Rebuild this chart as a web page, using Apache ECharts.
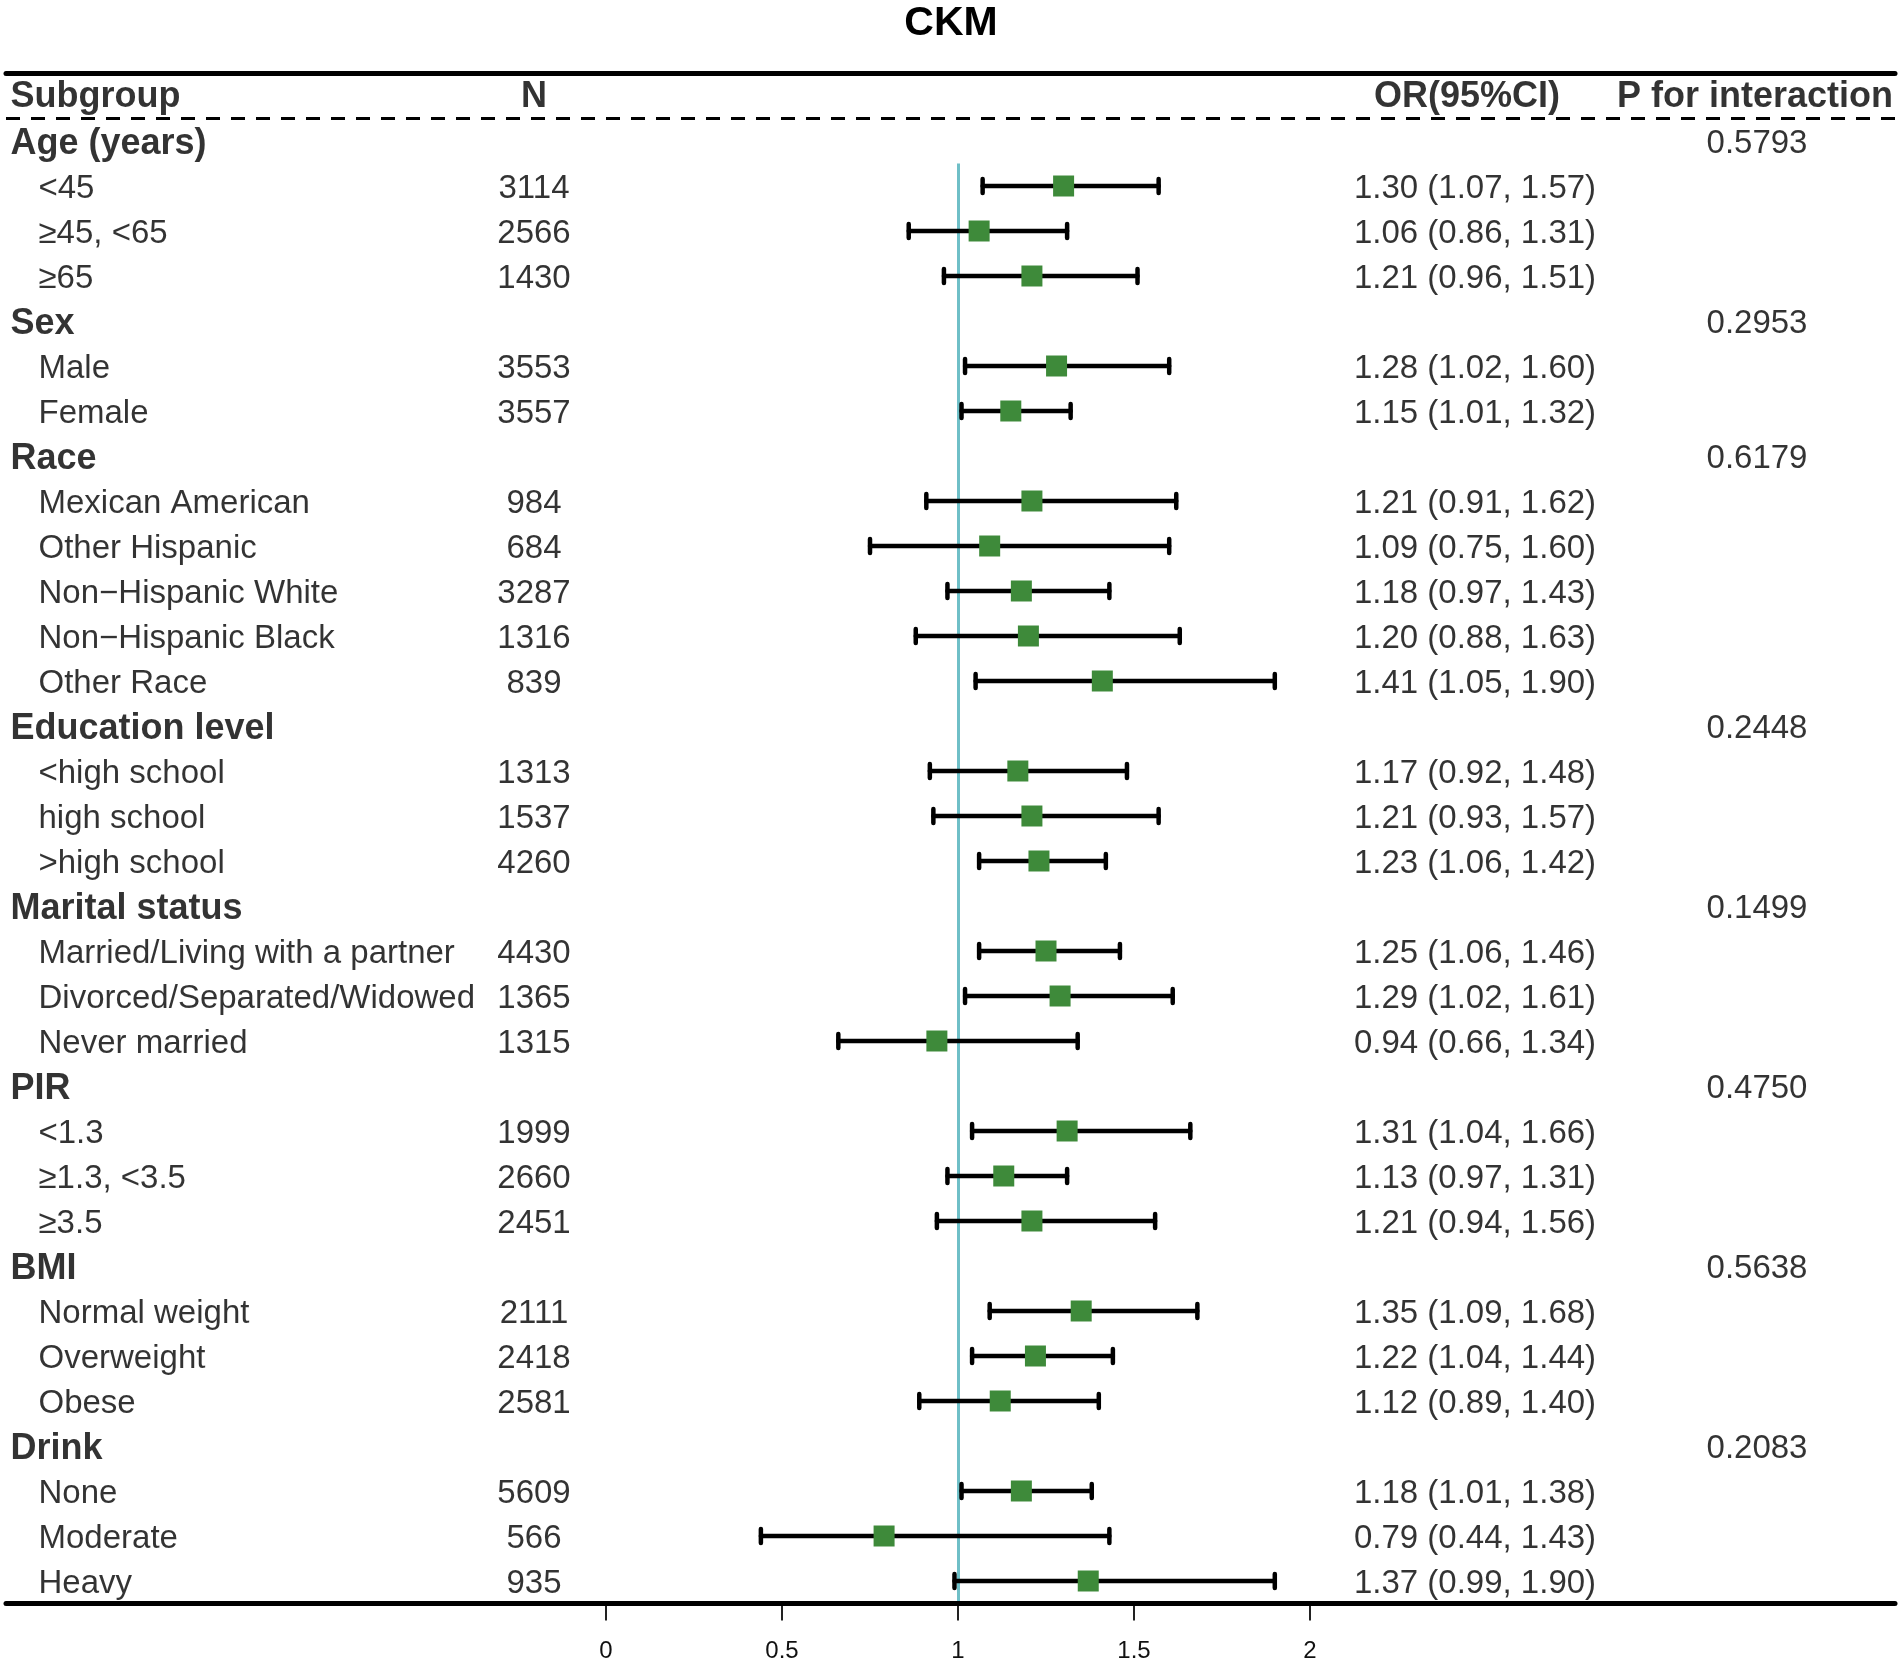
<!DOCTYPE html>
<html>
<head>
<meta charset="utf-8">
<script src="https://cdn.jsdelivr.net/npm/echarts@6/dist/echarts.min.js"></script>
<style>
html,body{margin:0;padding:0;background:#ffffff;}
#chart{width:1902px;height:1666px;}
</style>
</head>
<body>
<div id="chart"></div>
<script>
// ---------------- data ----------------
const rowLabels = [
  'Age (years)', '<45', '\u226545, <65', '\u226565',
  'Sex', 'Male', 'Female',
  'Race', 'Mexican American', 'Other Hispanic', 'Non\u2212Hispanic White', 'Non\u2212Hispanic Black', 'Other Race',
  'Education level', '<high school', 'high school', '>high school',
  'Marital status', 'Married/Living with a partner', 'Divorced/Separated/Widowed', 'Never married',
  'PIR', '<1.3', '\u22651.3, <3.5', '\u22653.5',
  'BMI', 'Normal weight', 'Overweight', 'Obese',
  'Drink', 'None', 'Moderate', 'Heavy'
];
const isGroup = [
  true, false, false, false,
  true, false, false,
  true, false, false, false, false, false,
  true, false, false, false,
  true, false, false, false,
  true, false, false, false,
  true, false, false, false,
  true, false, false, false
];
const nValues = [
  null, 3114, 2566, 1430,
  null, 3553, 3557,
  null, 984, 684, 3287, 1316, 839,
  null, 1313, 1537, 4260,
  null, 4430, 1365, 1315,
  null, 1999, 2660, 2451,
  null, 2111, 2418, 2581,
  null, 5609, 566, 935
];
const orValues = [
  null, 1.30, 1.06, 1.21,
  null, 1.28, 1.15,
  null, 1.21, 1.09, 1.18, 1.20, 1.41,
  null, 1.17, 1.21, 1.23,
  null, 1.25, 1.29, 0.94,
  null, 1.31, 1.13, 1.21,
  null, 1.35, 1.22, 1.12,
  null, 1.18, 0.79, 1.37
];
const ciLower = [
  null, 1.07, 0.86, 0.96,
  null, 1.02, 1.01,
  null, 0.91, 0.75, 0.97, 0.88, 1.05,
  null, 0.92, 0.93, 1.06,
  null, 1.06, 1.02, 0.66,
  null, 1.04, 0.97, 0.94,
  null, 1.09, 1.04, 0.89,
  null, 1.01, 0.44, 0.99
];
const ciUpper = [
  null, 1.57, 1.31, 1.51,
  null, 1.60, 1.32,
  null, 1.62, 1.60, 1.43, 1.63, 1.90,
  null, 1.48, 1.57, 1.42,
  null, 1.46, 1.61, 1.34,
  null, 1.66, 1.31, 1.56,
  null, 1.68, 1.44, 1.40,
  null, 1.38, 1.43, 1.90
];
const pValues = [
  '0.5793', null, null, null,
  '0.2953', null, null,
  '0.6179', null, null, null, null, null,
  '0.2448', null, null, null,
  '0.1499', null, null, null,
  '0.4750', null, null, null,
  '0.5638', null, null, null,
  '0.2083', null, null, null
];
const headerLabels = ['Subgroup', 'N', 'OR(95%CI)', 'P for interaction'];
const xTickValues = [0, 0.5, 1, 1.5, 2];
const refValue = 1;
const titleText = 'CKM';

// ---------------- layout ----------------
const FONT = '"Liberation Sans", Arial, Helvetica, sans-serif';
const nRows = rowLabels.length + 1;            // + header row
const ROW_H = 45;
const GRID_TOP = 73.5;
const GRID_H = nRows * ROW_H;
const COL = { group: 10, sub: 38, n: 534, or: 1475, p: 1757, orHead: 1467, pHead: 1755 };
const FOREST_LEFT = 606, FOREST_W = 704;

const fmt = v => v.toFixed(2);

const groupData = [], subData = [], nData = [], orTextData = [], pData = [];
const ciData = [], pointData = [];
rowLabels.forEach((lab, i) => {
  const y = i + 1;
  if (isGroup[i]) {
    groupData.push({ value: [COL.group, y], name: lab });
    if (pValues[i] !== null) pData.push({ value: [COL.p, y], name: pValues[i] });
  } else {
    subData.push({ value: [COL.sub, y], name: lab });
    nData.push({ value: [COL.n, y], name: String(nValues[i]) });
    orTextData.push({ value: [COL.or, y], name: fmt(orValues[i]) + ' (' + fmt(ciLower[i]) + ', ' + fmt(ciUpper[i]) + ')' });
    ciData.push([ciLower[i], y, ciUpper[i]]);
    pointData.push([orValues[i], y]);
  }
});
const headLeft = [{ value: [COL.group, 0], name: headerLabels[0] }];
const headCenter = [
  { value: [COL.n, 0], name: headerLabels[1] },
  { value: [COL.orHead, 0], name: headerLabels[2] },
  { value: [COL.pHead, 0], name: headerLabels[3] }
];

function textSeries(data, align, bold, size, dy, extra) {
  const s = {
    type: 'scatter', xAxisIndex: 0, yAxisIndex: 0,
    symbol: 'circle', symbolSize: 1,
    itemStyle: { color: 'rgba(0,0,0,0)' },
    silent: true, animation: false,
    emphasis: { disabled: true },
    data: data,
    label: {
      show: true,
      position: align === 'left' ? 'right' : 'inside',
      distance: 0,
      offset: [0, dy],
      formatter: '{b}',
      color: '#000',
      fontFamily: FONT,
      fontSize: size,
      fontWeight: bold ? 'bold' : 'normal'
    },
    z: 5
  };
  return Object.assign(s, extra || {});
}

const chart = echarts.init(document.getElementById('chart'), null, { renderer: 'canvas' });

const option = {
  backgroundColor: '#ffffff',
  animation: false,
  title: {
    text: titleText, left: 'center', top: 3, padding: 0,
    textStyle: { fontFamily: FONT, fontSize: 41, fontWeight: 'bold', color: '#000' }
  },
  grid: [
    { left: 6, right: 7, top: GRID_TOP, height: GRID_H, containLabel: false },
    { left: FOREST_LEFT, width: FOREST_W, top: GRID_TOP, height: GRID_H, containLabel: false }
  ],
  xAxis: [
    { gridIndex: 0, type: 'value', min: 6, max: 1895, show: false },
    {
      gridIndex: 1, type: 'value', position: 'bottom',
      min: xTickValues[0], max: xTickValues[xTickValues.length - 1], interval: 0.5,
      axisLine: { show: false, onZero: false },
      axisTick: { show: true, inside: false, length: 17, lineStyle: { color: '#222', width: 2 } },
      axisLabel: { show: true, margin: 36, fontFamily: FONT, fontSize: 24, color: '#111' },
      splitLine: { show: false }
    }
  ],
  yAxis: [
    { gridIndex: 0, type: 'value', inverse: true, min: -0.5, max: nRows - 0.5, show: false },
    { gridIndex: 1, type: 'value', inverse: true, min: -0.5, max: nRows - 0.5, show: false }
  ],
  series: [
    // table rules
    textSeries(headLeft, 'left', true, 36, 1, {
      markLine: {
        silent: true, symbol: 'none', animation: false,
        label: { show: false },
        data: [
          { yAxis: -0.5, lineStyle: { color: '#000', width: 5, type: 'solid', cap: 'round' } },
          { yAxis: 0.5, lineStyle: { color: '#000', width: 3, type: [14, 11] } },
          { yAxis: nRows - 0.5, lineStyle: { color: '#000', width: 5, type: 'solid', cap: 'round' } }
        ]
      }
    }),
    textSeries(headCenter, 'center', true, 36, 1),
    textSeries(groupData, 'left', true, 36, 3),
    textSeries(subData, 'left', false, 33, 3),
    textSeries(nData, 'center', false, 33, 3),
    textSeries(orTextData, 'center', false, 33, 3),
    textSeries(pData, 'center', false, 33, 3),
    // confidence intervals
    {
      type: 'custom', xAxisIndex: 1, yAxisIndex: 1, silent: true, animation: false, z: 3,
      data: ciData,
      renderItem: function (params, api) {
        const lo = api.value(0), y = api.value(1), hi = api.value(2);
        const a = api.coord([lo, y]);
        const b = api.coord([hi, y]);
        const st = { stroke: '#000', lineWidth: 4.5, lineCap: 'round' };
        return {
          type: 'group',
          children: [
            { type: 'line', shape: { x1: a[0], y1: a[1], x2: b[0], y2: b[1] }, style: st },
            { type: 'line', shape: { x1: a[0], y1: a[1] - 7, x2: a[0], y2: a[1] + 7 }, style: st },
            { type: 'line', shape: { x1: b[0], y1: b[1] - 7, x2: b[0], y2: b[1] + 7 }, style: st }
          ]
        };
      }
    },
    // point estimates + reference line
    {
      type: 'scatter', xAxisIndex: 1, yAxisIndex: 1, silent: true, animation: false, z: 4,
      symbol: 'rect', symbolSize: 21,
      itemStyle: { color: '#3e8a3a', opacity: 1 },
      emphasis: { disabled: true },
      data: pointData,
      markLine: {
        silent: true, symbol: 'none', animation: false, z: 1,
        label: { show: false },
        lineStyle: { color: '#6fbfc7', width: 3, type: 'solid' },
        data: [[{ coord: [refValue, 1.5] }, { coord: [refValue, nRows - 0.5] }]]
      }
    }
  ]
};
chart.setOption(option);
</script>
</body>
</html>
